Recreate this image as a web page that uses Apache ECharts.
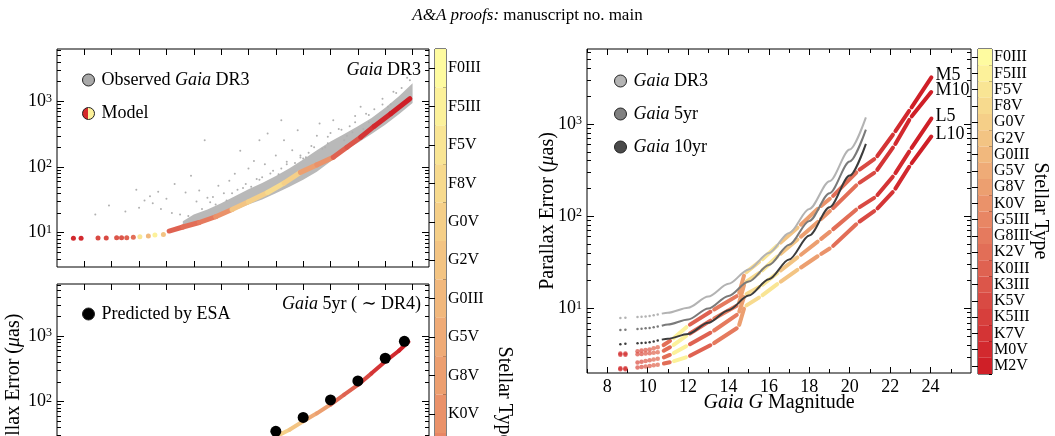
<!DOCTYPE html>
<html>
<head>
<meta charset="utf-8">
<script src="https://cdn.jsdelivr.net/npm/echarts@6/dist/echarts.min.js"></script>
<style>
html, body { margin: 0; padding: 0; background: #fff; }
#chart { width: 1055px; height: 436px; }
</style>
</head>
<body>
<div id="chart"></div>
<script>
// Gaia parallax error vs G magnitude: left = DR3 / 5yr panels, right = model curves per stellar type
const FONT = "'Liberation Serif', 'DejaVu Serif', serif";

const stellarTypes = ['F0III', 'F5III', 'F5V', 'F8V', 'G0V', 'G2V', 'G0III', 'G5V', 'G8V', 'K0V',
    'G5III', 'G8III', 'K2V', 'K0III', 'K3III', 'K5V', 'K5III', 'K7V', 'M0V', 'M2V'];
const typeColors = ['#fefba0', '#fcf19a', '#f9e594', '#f7da8e', '#f5cf88', '#f3c483', '#f1b87d', '#efab77',
    '#ec9f70', '#ea926a', '#e88664', '#e57a5e', '#e26e57', '#df6251', '#dc564a', '#d94a43', '#d73f3c',
    '#d43435', '#d2292e', '#cf1f27'];

// tick positions
const gTicksLeft = [9, 10, 11, 12, 13, 14, 15, 16, 17, 18, 19, 20, 21];
const gMajorRight = [8, 10, 12, 14, 16, 18, 20, 22, 24];
const gMinorRight = [7, 9, 11, 13, 15, 17, 19, 21, 23, 25];
const errMajor = [10, 100, 1000];
const errMinor = [2, 3, 4, 5, 6, 7, 8, 9, 20, 30, 40, 50, 60, 70, 80, 90,
    200, 300, 400, 500, 600, 700, 800, 900, 2000, 3000, 4000, 5000, 6000];

// left top: observed DR3 cloud (dense band edges + stray stars)
const obsBandG = [12.6, 13.0, 13.5, 14.0, 14.5, 15.0, 15.5, 16.0, 16.5, 17.0, 17.5, 18.0, 18.5, 19.0, 19.5, 20.0, 20.5, 21.0];
const obsBandLow = [11.5, 13.0, 14.8, 18.0, 22.0, 27, 32, 40, 50, 64, 85, 122, 175, 235, 320, 440, 640, 950];
const obsBandHigh = [15, 19, 22.5, 28, 36, 46, 57, 73, 96, 130, 180, 245, 320, 420, 560, 800, 1200, 1900];
const obsStrayG = [9.4, 9.9, 10.5, 10.9, 11.0, 11.2, 11.4, 11.5, 11.7, 11.8, 12.0, 12.2, 12.3, 12.5, 12.7, 12.9,
    13.1, 13.2, 13.4, 13.5, 13.7, 13.9, 14.1, 14.2, 14.3, 14.5, 14.7, 14.8, 15.0, 15.1, 15.2, 15.3, 15.4, 15.6,
    15.7, 15.8, 16.0, 16.1, 16.2, 16.3, 16.4, 16.6, 16.8, 16.9, 17.0, 17.1, 17.3, 17.5, 17.6, 17.7, 17.8, 18.0,
    18.1, 18.3, 18.5, 18.7, 18.8, 18.9, 19.1, 19.3, 19.4, 19.6, 19.9, 20.1, 20.2, 20.3, 20.6, 20.8,
    12.8, 13.3, 13.8, 14.4, 14.9, 15.4, 15.9, 16.4, 16.9, 17.4, 17.9, 18.4, 18.9, 19.4, 19.9, 20.4, 20.9,
    13.6, 14.6, 15.5, 16.2, 16.7, 17.2, 17.9, 18.6, 19.2, 19.8, 20.5];
const obsStrayErr = [19, 26, 21, 45, 24, 31, 36, 28, 42, 23, 33, 20, 55, 19, 41, 74,
    30, 44, 257, 34, 35, 52, 40, 31, 62, 79, 178, 48, 95, 50, 124, 66, 257, 110,
    325, 80, 150, 78, 515, 257, 120, 180, 365, 140, 135, 141, 210, 300, 460, 190, 200, 330,
    515, 380, 257, 420, 340, 600, 830, 650, 480, 760, 1100, 830, 900, 1400, 1600, 2300,
    18, 23, 27, 40, 55, 64, 88, 110, 150, 200, 290, 370, 480, 620, 900, 1350, 2100,
    29, 45, 70, 95, 115, 165, 230, 300, 380, 520, 780];

// left top: DR3 model (bright stars as dots, then a line)
const dr3DotG = [8.6, 8.88, 9.5, 9.8, 10.18, 10.36, 10.55, 10.79, 11.03, 11.34, 11.58, 11.89];
const dr3DotErr = [8.2, 8.2, 8.3, 8.3, 8.35, 8.35, 8.4, 8.5, 8.65, 8.9, 9.2, 9.4];
const dr3DotType = [18, 18, 15, 15, 14, 14, 13, 12, 2, 6, 1, 5];
const dr3LineG = [12.1, 12.6, 13.2, 13.8, 14.4, 15.0, 15.7, 16.3, 16.9, 17.5, 18.1, 18.6, 19.1, 19.6, 20.2, 20.9];
const dr3LineErr = [10.6, 12.2, 14.3, 17.5, 22.5, 29.5, 41, 57, 83, 108, 141, 200, 285, 420, 650, 1100];
const dr3LineType = [13, 12, 11, 9, 5, 4, 3, 4, 8, 9, 13, 14, 17, 18, 19];

// left bottom: 5yr model and ESA prediction
const yr5LineG = [15.0, 15.6, 16.0, 16.5, 17.0, 17.5, 18.0, 18.5, 19.0, 19.5, 20.0, 20.5, 20.85];
const yr5LineErr = [16, 22, 29, 37, 50, 66, 90, 128, 180, 270, 410, 600, 820];
const yr5LineType = [2, 3, 4, 5, 7, 8, 12, 13, 15, 17, 18, 19];
const esaG = [16, 17, 18, 19, 20, 20.7];
const esaErr = [35, 57, 106, 207, 460, 835];

// right: grey error curves (sparse bright stars, then continuous)
const brightG = [8.65, 8.9, 9.5, 9.7, 9.9, 10.1, 10.3, 10.5];
const greyDR3Bright = [7.9, 7.95, 8.1, 8.15, 8.2, 8.3, 8.45, 8.6];
const grey5Bright = [5.85, 5.9, 6.0, 6.05, 6.1, 6.15, 6.25, 6.4];
const grey10Bright = [4.1, 4.15, 4.2, 4.22, 4.25, 4.3, 4.4, 4.5];
const greyG = [10.7, 11.0, 12.0, 13.0, 14.0, 15.0, 16.0, 17.0, 18.0, 19.0, 20.0, 20.8];
const greyDR3 = [8.8, 9.0, 10.2, 13.5, 18.5, 26.5, 40, 66, 120, 240, 530, 1180];
const grey5yr = [6.5, 6.7, 7.6, 10.0, 13.7, 19.6, 29.6, 49, 89, 178, 393, 870];
const grey10yr = [4.6, 4.7, 5.3, 7.0, 9.6, 13.8, 20.8, 34, 62, 125, 276, 610];

// right: model curves, one stellar type per piece
const curveNames = ['M5', 'M10', 'L5', 'L10'];
const curveG = [10.7, 11.2, 12.0, 13.2, 14.5, 14.8, 15.6, 16.5, 17.5, 18.5, 19.1, 20.4, 21.3, 22.2, 23.0, 24.1];
const curveType = [12, 1, 13, 11, 8, 3, 2, 5, 8, 9, 12, 15, 17, 18, 19];
const curveM5 = [3.9, 4.6, 6.5, 9.5, 14, 24, 33, 50, 78, 125, 160, 310, 430, 800, 1450, 3350];
const curveM10 = [3.4, 3.9, 5.2, 7.6, 11, 19, 25, 38, 58, 90, 118, 225, 305, 580, 1160, 2320];
const curveL5 = [2.9, 3.2, 4.0, 5.6, 8.8, 14, 17.5, 25, 37, 55, 70, 122, 163, 280, 525, 1200];
const curveL10 = [2.5, 2.65, 3.0, 4.1, 6.3, 10.5, 13.5, 19, 27, 38, 46, 85, 117, 190, 360, 765];
const brightM5 = [3.25, 3.25, 3.45, 3.5, 3.55, 3.6, 3.7, 3.8];
const brightM10 = [3.15, 3.15, 3.2, 3.22, 3.25, 3.28, 3.32, 3.36];
const brightL5 = [2.25, 2.25, 2.6, 2.65, 2.7, 2.75, 2.8, 2.85];
const brightL10 = [2.2, 2.2, 2.3, 2.32, 2.35, 2.38, 2.42, 2.46];
const brightType = [17, 17, 14, 14, 13, 13, 12, 12];

const xAxes = [];
const yAxes = [];
const tickStyle = { color: '#000', width: 1 };
const labelText = { fontFamily: FONT, fontSize: 18, color: '#000' };
const powLabel = Object.assign({}, labelText, {
    formatter: v => '10{s|' + Math.round(v) + '}',
    rich: { s: { fontFamily: FONT, fontSize: 12, color: '#000', verticalAlign: 'top', padding: [0, 0, 6, 0] } }
});
const italicRich = size => ({ i: { fontFamily: FONT, fontSize: size, fontStyle: 'italic', color: '#000' } });

function addTicks(list, base, position, values, length, label) {
    list.push(Object.assign({}, base, {
        position: position,
        axisLine: { show: false },
        splitLine: { show: false },
        axisTick: { show: true, inside: true, length: length, customValues: values, lineStyle: tickStyle },
        axisLabel: label ? Object.assign({ show: true, customValues: values }, label) : { show: false }
    }));
    return list.length - 1;
}

// one framed panel: G on x, error on a log y (hidden), ticks mirrored on all sides
function addPanel(gi, gRange, gMajor, gMinor, gLabel, errRange, opts) {
    const xb = { type: 'value', gridIndex: gi, min: gRange[0], max: gRange[1] };
    const xi = addTicks(xAxes, Object.assign({}, xb, opts.xName || {}), 'bottom', gMajor, 6,
        gLabel ? Object.assign({ margin: 5 }, labelText) : null);
    if (gMinor.length) addTicks(xAxes, xb, 'bottom', gMinor, 4);
    addTicks(xAxes, xb, 'top', gMajor, 6);
    if (gMinor.length) addTicks(xAxes, xb, 'top', gMinor, 4);

    const yi = yAxes.push({ type: 'log', logBase: 10, gridIndex: gi, min: errRange[0], max: errRange[1], show: false }) - 1;
    const yb = { type: 'value', gridIndex: gi, min: Math.log10(errRange[0]), max: Math.log10(errRange[1]) };
    const inRange = v => v > errRange[0] && v < errRange[1];
    const major = errMajor.filter(inRange).map(Math.log10);
    const minor = errMinor.filter(inRange).map(Math.log10);
    addTicks(yAxes, Object.assign({}, yb, opts.yName || {}), 'left', major, 7, Object.assign({ margin: 5 }, powLabel));
    addTicks(yAxes, yb, 'left', minor, 4);
    addTicks(yAxes, yb, 'right', major, 7);
    addTicks(yAxes, yb, 'right', minor, 4);
    return [xi, yi];
}

function addColorbar(gi) {
    const xi = xAxes.push({ type: 'value', gridIndex: gi, min: 0, max: 1, show: false }) - 1;
    const base = { type: 'category', gridIndex: gi, data: stellarTypes, inverse: true, position: 'right',
        axisLine: { show: false }, splitLine: { show: false } };
    const yi = yAxes.push(Object.assign({}, base, {
        axisTick: { show: true, inside: true, alignWithLabel: true, interval: 0, length: 6, lineStyle: tickStyle },
        axisLabel: { show: true, interval: 0, margin: 2, fontFamily: FONT, fontSize: 16, color: '#000' }
    })) - 1;
    yAxes.push(Object.assign({}, base, {
        axisTick: { show: true, inside: true, interval: 0, length: 3, lineStyle: tickStyle },
        axisLabel: { show: false }
    }));
    return [xi, yi];
}

const yNameStyle = {
    name: 'Parallax Error ({i|μ}as)',
    nameLocation: 'middle',
    nameRotate: 90,
    nameMoveOverlap: false,
    nameTextStyle: { fontFamily: FONT, fontSize: 20, color: '#000', rich: italicRich(20) }
};

const leftTop = addPanel(0, [8, 21.6], gTicksLeft, [], false, [3, 6300], {});
const leftBottom = addPanel(1, [8, 21.6], gTicksLeft, [], false, [3, 6300],
    { yName: Object.assign({ nameGap: 33 }, yNameStyle) });
const right = addPanel(2, [7, 26], gMajorRight, gMinorRight, true, [2, 6500], {
    yName: Object.assign({ nameGap: 29 }, yNameStyle),
    xName: {
        name: '{i|Gaia G} Magnitude', nameLocation: 'middle', nameGap: 20, nameMoveOverlap: false,
        nameTextStyle: { fontFamily: FONT, fontSize: 20, color: '#000', rich: italicRich(20) }
    }
});
const cbLeft = addColorbar(3);
const cbRight = addColorbar(4);

const zip = (g, v) => g.map((x, i) => [x, v[i]]);

// thick pieces between consecutive points, coloured by stellar type
function pieceSeries(name, axes, g, err, type, width, gap, z) {
    return {
        type: 'custom', name: name, xAxisIndex: axes[0], yAxisIndex: axes[1], z: z, silent: true,
        encode: { x: [0, 2], y: [1, 3] },
        data: type.map((t, i) => [g[i], err[i], g[i + 1], err[i + 1], t]),
        renderItem: function (params, api) {
            const a = api.coord([api.value(0), api.value(1)]);
            const b = api.coord([api.value(2), api.value(3)]);
            const dx = b[0] - a[0], dy = b[1] - a[1];
            const len = Math.hypot(dx, dy) || 1;
            const s = Math.min(gap, len / 3);
            return {
                type: 'line',
                shape: { x1: a[0] + dx / len * s, y1: a[1] + dy / len * s, x2: b[0] - dx / len * s, y2: b[1] - dy / len * s },
                style: { stroke: typeColors[api.value(4)], lineWidth: width, lineCap: 'round' }
            };
        }
    };
}

function dotSeries(name, axes, g, err, type, size, opacity, z) {
    return {
        type: 'scatter', name: name, xAxisIndex: axes[0], yAxisIndex: axes[1], z: z, silent: true,
        symbolSize: size,
        data: g.map((x, i) => ({ value: [x, err[i]], itemStyle: { color: typeColors[type[i]], opacity: opacity } }))
    };
}

function greyLine(name, g, err, color, z) {
    return {
        type: 'line', name: name, xAxisIndex: right[0], yAxisIndex: right[1], z: z, silent: true,
        data: zip(g, err), showSymbol: false, smooth: 0.3, smoothMonotone: 'x',
        itemStyle: { color: color }, lineStyle: { color: color, width: 2 }
    };
}

function greyDots(name, err, color) {
    return {
        type: 'scatter', name: name, xAxisIndex: right[0], yAxisIndex: right[1], z: 6, silent: true,
        symbolSize: 2.5, itemStyle: { color: color, opacity: 1 }, data: zip(brightG, err)
    };
}

// one cell of a colour bar: the category band of this stellar type
function colorCell(params, api) {
    const idx = api.value(0);
    const mid = api.coord([0, stellarTypes[idx]]);
    const band = api.size([0, 1]);
    return {
        type: 'rect',
        shape: { x: params.coordSys.x, y: mid[1] - band[1] / 2, width: params.coordSys.width, height: band[1] },
        style: { fill: typeColors[idx] }
    };
}

const series = [
    {
        type: 'custom', name: 'Observed band', xAxisIndex: leftTop[0], yAxisIndex: leftTop[1], z: 1, silent: true,
        data: [[obsBandG[0], obsBandLow[0]]],
        renderItem: function (params, api) {
            const upper = obsBandG.map((g, i) => api.coord([g, obsBandHigh[i]]));
            const lower = obsBandG.map((g, i) => api.coord([g, obsBandLow[i]])).reverse();
            return { type: 'polygon', shape: { points: upper.concat(lower) }, style: { fill: '#b9b9b9' } };
        }
    },
    {
        type: 'scatter', name: 'Observed Gaia DR3', xAxisIndex: leftTop[0], yAxisIndex: leftTop[1], z: 2, silent: true,
        symbolSize: 2, itemStyle: { color: '#b0b0b0', opacity: 1 }, data: zip(obsStrayG, obsStrayErr)
    },
    dotSeries('Model', leftTop, dr3DotG, dr3DotErr, dr3DotType, 5, 1, 3),
    pieceSeries('Model', leftTop, dr3LineG, dr3LineErr, dr3LineType, 5, 0, 3),
    pieceSeries('Model 5yr', leftBottom, yr5LineG, yr5LineErr, yr5LineType, 4, 0, 3),
    {
        type: 'scatter', name: 'Predicted by ESA', xAxisIndex: leftBottom[0], yAxisIndex: leftBottom[1], z: 4, silent: true,
        symbolSize: 11, itemStyle: { color: '#000', opacity: 1 }, data: zip(esaG, esaErr)
    },
    greyLine('Gaia DR3', greyG, greyDR3, '#b3b3b3', 6),
    greyLine('Gaia 5yr', greyG, grey5yr, '#7a7a7a', 6),
    greyLine('Gaia 10yr', greyG, grey10yr, '#3c3c3c', 6),
    greyDots('DR3 bright', greyDR3Bright, '#b3b3b3'),
    greyDots('5yr bright', grey5Bright, '#7a7a7a'),
    greyDots('10yr bright', grey10Bright, '#3c3c3c'),
    {
        type: 'custom', name: 'colorbar left', xAxisIndex: cbLeft[0], yAxisIndex: cbLeft[1], silent: true,
        data: stellarTypes.map((t, i) => i),
        renderItem: colorCell
    },
    {
        type: 'custom', name: 'colorbar right', xAxisIndex: cbRight[0], yAxisIndex: cbRight[1], silent: true,
        data: stellarTypes.map((t, i) => i),
        renderItem: colorCell
    },
    {
        type: 'scatter', name: 'curve labels', xAxisIndex: right[0], yAxisIndex: right[1], silent: true, symbolSize: 0,
        itemStyle: { opacity: 1 },
        data: [curveM5, curveM10, curveL5, curveL10].map((c, i) => ({
            value: [curveG[curveG.length - 1], c[c.length - 1]], name: curveNames[i]
        })),
        label: { show: true, position: 'right', distance: 3, formatter: p => p.name, fontFamily: FONT, fontSize: 18, color: '#000' }
    }
];

[[curveM5, brightM5], [curveM10, brightM10], [curveL5, brightL5], [curveL10, brightL10]].forEach(function (c, i) {
    series.push(pieceSeries(curveNames[i], right, curveG, c[0], curveType, 4, 2.2, 4));
    series.push(dotSeries(curveNames[i] + ' bright', right, brightG, c[1], brightType, 4.5, 0.75, 4));
});

const legendText = {
    fontFamily: FONT, fontSize: 18, color: '#000', padding: [0, 0, 0, 2], rich: italicRich(18)
};
const gaiaItalic = name => name.replace('Gaia', '{i|Gaia}');
const circleItem = (name, color) => ({ name: name, icon: 'circle', itemStyle: { color: color, borderColor: '#222', borderWidth: 1, opacity: 1 } });

const option = {
    animation: false,
    backgroundColor: '#fff',
    title: {
        text: '{i|A&A proofs:} manuscript no. main',
        left: 'center', top: 2,
        textStyle: { fontFamily: FONT, fontSize: 17, fontWeight: 'normal', color: '#000', rich: italicRich(17) }
    },
    grid: [
        { left: 57, top: 49, width: 372, height: 218 },
        { left: 57, top: 284, width: 372, height: 217 },
        { left: 587, top: 49, width: 384, height: 324 },
        { left: 435, top: 49, width: 11, height: 768 },
        { left: 978, top: 49, width: 14, height: 325 }
    ].map(g => Object.assign(g, {
        show: true, borderColor: '#000', borderWidth: 1, backgroundColor: 'rgba(0,0,0,0)',
        containLabel: false, outerBoundsMode: 'none'
    })),
    legend: [
        {
            left: 77, top: 66, orient: 'vertical', itemGap: 15.5, itemWidth: 12, itemHeight: 12, selectedMode: false,
            formatter: gaiaItalic, textStyle: legendText,
            data: [
                circleItem('Observed Gaia DR3', '#a9a9a9'),
                circleItem('Model', {
                    type: 'linear', x: 0, y: 0, x2: 1, y2: 0,
                    colorStops: [{ offset: 0, color: '#d42a2a' }, { offset: 0.5, color: '#d42a2a' },
                        { offset: 0.5, color: '#fcf19a' }, { offset: 1, color: '#fcf19a' }]
                })
            ]
        },
        {
            left: 77, top: 300, orient: 'vertical', itemWidth: 12, itemHeight: 12, selectedMode: false,
            textStyle: legendText, data: [circleItem('Predicted by ESA', '#000')]
        },
        {
            left: 609, top: 67, orient: 'vertical', itemGap: 15, itemWidth: 12, itemHeight: 12, selectedMode: false,
            formatter: gaiaItalic, textStyle: legendText,
            data: [circleItem('Gaia DR3', '#b4b4b4'), circleItem('Gaia 5yr', '#808080'), circleItem('Gaia 10yr', '#4a4a4a')]
        }
    ],
    graphic: [
        {
            type: 'text', x: 421, y: 70, silent: true,
            style: { text: '{i|Gaia} DR3', fill: '#000', fontFamily: FONT, fontSize: 18, align: 'right', verticalAlign: 'middle',
                rich: { i: { fontFamily: FONT, fontSize: 18, fontStyle: 'italic', fill: '#000' } } }
        },
        {
            type: 'text', x: 421, y: 304, silent: true,
            style: { text: '{i|Gaia} 5yr ( ∼ DR4)', fill: '#000', fontFamily: FONT, fontSize: 18, align: 'right', verticalAlign: 'middle',
                rich: { i: { fontFamily: FONT, fontSize: 18, fontStyle: 'italic', fill: '#000' } } }
        },
        {
            type: 'text', x: 504, y: 395, rotation: -Math.PI / 2, silent: true,
            style: { text: 'Stellar Type', fill: '#000', fontFamily: FONT, fontSize: 20, align: 'center', verticalAlign: 'middle' }
        },
        {
            type: 'text', x: 1040, y: 211, rotation: -Math.PI / 2, silent: true,
            style: { text: 'Stellar Type', fill: '#000', fontFamily: FONT, fontSize: 20, align: 'center', verticalAlign: 'middle' }
        }
    ],
    xAxis: xAxes,
    yAxis: yAxes,
    series: series
};

const chart = echarts.init(document.getElementById('chart'), null, { renderer: 'canvas' });
chart.setOption(option);
</script>
</body>
</html>
